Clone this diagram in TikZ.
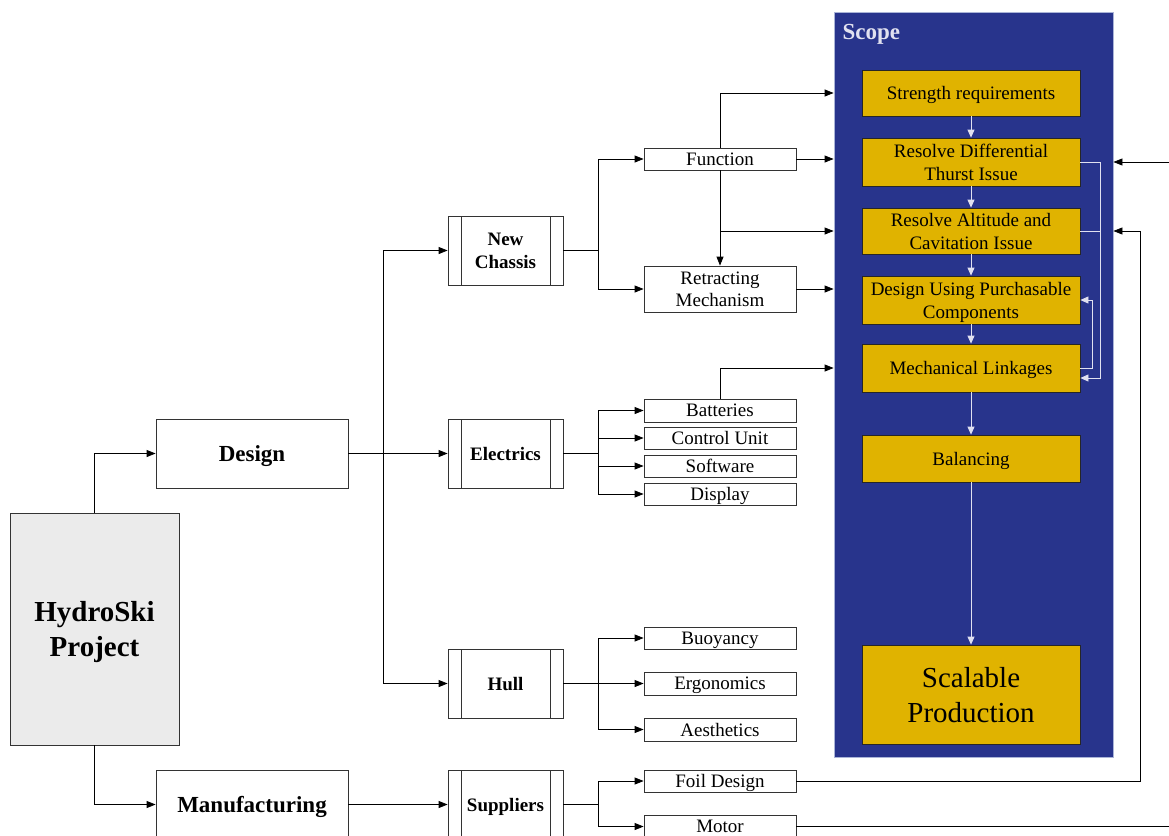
\documentclass[tikz,border=0pt]{standalone}
\usepackage{fontspec}
\setmainfont{Liberation Serif}
\usetikzlibrary{arrows.meta}

\definecolor{scopeblue}{RGB}{40,52,140}
\definecolor{scopeedge}{RGB}{170,180,215}
\definecolor{scopegold}{RGB}{224,179,0}
\definecolor{flowwhite}{RGB}{225,225,240}
\definecolor{rootgray}{RGB}{235,235,235}

\begin{document}
\begin{tikzpicture}[x=1pt,y=-1pt,
  box/.style={draw=black!80, line width=0.8pt, fill=white, inner sep=0pt, align=center, text depth=0pt},
  main/.style={box, font=\bfseries\fontsize{23}{27}\selectfont, minimum width=192pt, minimum height=69pt},
  proc/.style={box, font=\bfseries\fontsize{19}{23}\selectfont, minimum width=115pt, minimum height=69pt,
    path picture={
      \draw[line width=0.8pt] ([xshift=13pt]path picture bounding box.north west) -- ([xshift=13pt]path picture bounding box.south west);
      \draw[line width=0.8pt] ([xshift=-13pt]path picture bounding box.north east) -- ([xshift=-13pt]path picture bounding box.south east);}},
  item/.style={box, font=\fontsize{19}{22}\selectfont, minimum width=152pt, minimum height=22pt},
  goal/.style={draw=black!85, fill=scopegold, line width=0.8pt, inner sep=0pt, align=center, text depth=0pt,
    font=\fontsize{19}{23}\selectfont, minimum width=218pt, minimum height=46pt},
  link/.style={line width=0.8pt, -{Triangle[length=9pt,width=7pt]}},
  flow/.style={draw=flowwhite, line width=0.8pt, -{Triangle[length=8pt,width=7pt]}}]

 \useasboundingbox (0,0) rectangle (1169,835);

 % scope panel
 \node[draw=scopeedge, fill=scopeblue, line width=0.8pt, minimum width=279pt, minimum height=745pt, inner sep=0pt] (scope) at (973.5,384.5) {};
 \node[anchor=west, text=flowwhite, font=\bfseries\fontsize{23}{27}\selectfont] (scopetitle) at (839,34) {Scope};

 \node[goal] (strength) at (971,93) {Strength requirements};
 \node[goal, minimum height=48pt] (diff) at (971,162) {Resolve Differential\\Thurst Issue};
 \node[goal] (alt) at (971,231) {Resolve Altitude and\\Cavitation Issue};
 \node[goal, minimum height=48pt] (purch) at (971,300) {Design Using Purchasable\\Components};
 \node[goal, minimum height=48pt] (mech) at (971,368) {Mechanical Linkages};
 \node[goal, minimum height=47pt] (bal) at (971,458.5) {Balancing};
 \node[goal, minimum height=99pt, font=\fontsize{29}{35}\selectfont] (scal) at (971,694.5) {Scalable\\Production};

 \foreach \a/\b in {strength/diff, diff/alt, alt/purch, purch/mech, mech/bal, bal/scal}
   \draw[flow] (\a.south) -- (\b.north);
 \draw[flow] (diff.east) -- ++(20,0) |- ([yshift=-10pt]mech.east);
 \draw[draw=flowwhite, line width=0.8pt] (alt.east) -- ++(20,0);
 \draw[flow] (mech.east) -- ++(12,0) |- (purch.east);

 % tree
 \node[box, fill=rootgray, minimum width=169pt, minimum height=232pt, font=\bfseries\fontsize{29}{35}\selectfont] (hydro) at (94.5,629) {HydroSki\\Project};
 \node[main] (design) at (252,453.5) {Design};
 \node[main] (manuf) at (252,804.5) {Manufacturing};

 \node[proc] (chassis) at (505.5,250.5) {New\\Chassis};
 \node[proc] (elec) at (505.5,453.5) {Electrics};
 \node[proc] (hull) at (505.5,683.5) {Hull};
 \node[proc] (supp) at (505.5,804.5) {Suppliers};

 \node[item] (function) at (720,159) {Function};
 \node[item, minimum height=46pt] (retract) at (720,289) {Retracting\\Mechanism};
 \node[item, minimum height=23pt] (batteries) at (720,410.5) {Batteries};
 \node[item] (control) at (720,438) {Control Unit};
 \node[item] (software) at (720,466) {Software};
 \node[item] (display) at (720,494) {Display};
 \node[item] (buoyancy) at (720,638) {Buoyancy};
 \node[item, minimum height=23pt] (ergo) at (720,683.5) {Ergonomics};
 \node[item, minimum height=23pt] (aesth) at (720,729.5) {Aesthetics};
 \node[item] (foil) at (720,781) {Foil Design};
 \node[item, minimum height=23pt] (motor) at (720,826.5) {Motor};

 \draw[link] (hydro.north) |- (design.west);
 \draw[link] (hydro.south) |- (manuf.west);
 \draw[link] (design.east) -- (elec.west);
 \draw[link] (design.east) -- ++(35,0) |- (chassis.west);
 \draw[link] (design.east) -- ++(35,0) |- (hull.west);
 \draw[link] (manuf.east) -- (supp.west);

 \foreach \n in {function, retract}
   \draw[link] (chassis.east) -- ++(35,0) |- (\n.west);
 \foreach \n in {batteries, control, software, display}
   \draw[link] (elec.east) -- ++(35,0) |- (\n.west);
 \foreach \n in {buoyancy, ergo, aesth}
   \draw[link] (hull.east) -- ++(35,0) |- (\n.west);
 \foreach \n in {foil, motor}
   \draw[link] (supp.east) -- ++(35,0) |- (\n.west);

 % into the scope
 \draw[link] (function.north) |- (scope.west |- strength);
 \draw[link] (function.east) -- (scope.west |- function);
 \draw[link] (function.south) -- (retract.north);
 \draw[link] (function.south |- alt) -- (scope.west |- alt);
 \draw[link] (retract.east) -- (scope.west |- retract);
 \draw[link] (batteries.north) |- (scope.west |- mech);
 \draw[link] (foil.east) -- ++(344,0) |- (scope.east |- alt);
 \draw[link] (motor.east) -- ++(400,0) |- (scope.east |- diff);

\end{tikzpicture}
\end{document}
